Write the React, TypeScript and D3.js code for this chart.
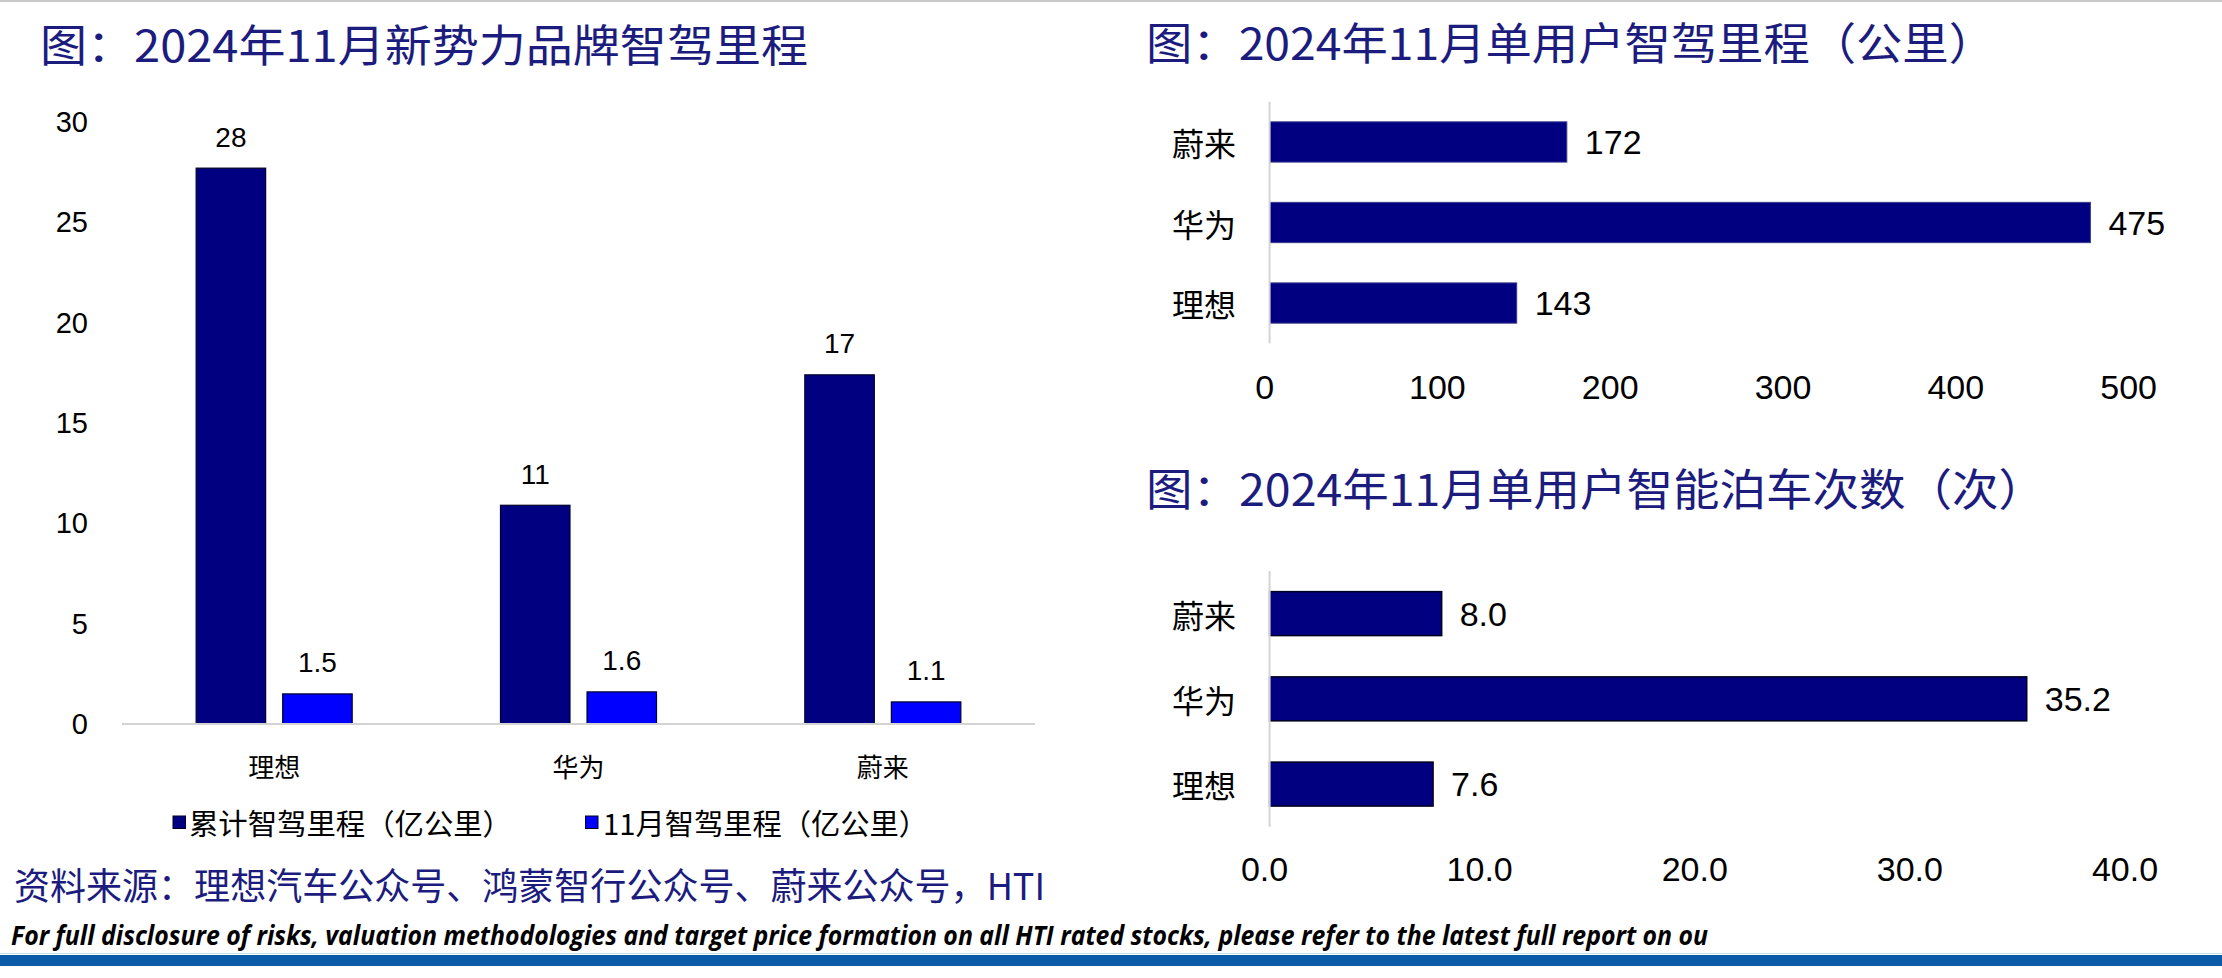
import React from "react";
import * as d3 from "d3";

// ---------- data ----------
const brands = ["理想", "华为", "蔚来"];
const seriesNames = ["累计智驾里程（亿公里）", "11月智驾里程（亿公里）"];
const cumulativeMileage = [27.7, 10.9, 17.4];
const novemberMileage = [1.5, 1.6, 1.1];
const leftTicks = [0, 5, 10, 15, 20, 25, 30];

const rightBrands = ["蔚来", "华为", "理想"];
const perUserMileage = [172, 475, 143];
const mileageTicks = [0, 100, 200, 300, 400, 500];

const parkingCounts = [8.0, 35.2, 7.6];
const parkingTicks = [0, 10, 20, 30, 40];

const titleLeft = "图：2024年11月新势力品牌智驾里程";
const titleRight1 = "图：2024年11月单用户智驾里程（公里）";
const titleRight2 = "图：2024年11月单用户智能泊车次数（次）";
const sourceText = "资料来源：理想汽车公众号、鸿蒙智行公众号、蔚来公众号，HTI";
const disclaimer =
  "For full disclosure of risks, valuation methodologies and target price formation on all HTI rated stocks, please refer to the latest full report on ou";

// ---------- styles ----------
const NAVY = "#000080";
const BLUE = "#0000FF";
const TITLE = "#1C1C7E";
const CJK = "'Noto Sans CJK SC', sans-serif";
const NUM = "'Liberation Sans', Arial, sans-serif";
const AXIS = "#D3D3D3";

export default function App() {
  // Left grouped bar chart
  const x0 = d3.scaleBand<string>().domain(brands).range([122, 1035]).paddingInner(0.4873).paddingOuter(0.4873 / 2);
  const x1 = d3.scaleBand<number>().domain([0, 1]).range([0, x0.bandwidth()]).paddingInner(0.197);
  const yL = d3.scaleLinear().domain([0, 30]).range([724, 122]);
  const seriesVals = [cumulativeMileage, novemberMileage];
  const seriesColors = [NAVY, BLUE];
  const seriesFmt = [d3.format(".0f"), d3.format(".1f")];

  // Right chart 1
  const xR1 = d3.scaleLinear().domain([0, 500]).range([1269.6, 2133.6]);
  const yR1 = d3.scaleBand<string>().domain(rightBrands).range([101.7, 343.3]).paddingInner(0.5).paddingOuter(0.25);

  // Right chart 2
  const xR2 = d3.scaleLinear().domain([0, 40]).range([1269.6, 2130]);
  const yR2 = d3.scaleBand<string>().domain(rightBrands).range([571, 826.7]).paddingInner(0.484).paddingOuter(0.242);

  return (
    <svg
      width={2222}
      height={978}
      viewBox="0 0 2222 978"
      style={{ position: "absolute", left: 0, top: 0, background: "#fff" }}
    >
      <rect x={0} y={0} width={2222} height={978} fill="#fff" />
      <line x1={0} x2={2222} y1={1} y2={1} stroke="#C8C8C8" strokeWidth={2} />

      {/* ---------- Left chart ---------- */}
      <text x={40} y={43} fontFamily={CJK} fontSize={44} fill={TITLE} dominantBaseline="central" textLength={768} lengthAdjust="spacingAndGlyphs">
        {titleLeft}
      </text>
      {leftTicks.map((t) => (
        <text key={"lt" + t} x={88} y={yL(t)} fontFamily={NUM} fontSize={29} textAnchor="end" dominantBaseline="central" fill="#000">
          {t}
        </text>
      ))}
      {brands.map((b, i) => (
        <g key={"lg" + b}>
          {seriesVals.map((vals, s) => {
            const bx = (x0(b) as number) + (x1(s) as number);
            const bw = x1.bandwidth();
            return (
              <g key={"lb" + s}>
                <rect x={bx} y={yL(vals[i])} width={bw} height={yL(0) - yL(vals[i])} fill={seriesColors[s]} stroke="#00002A" strokeWidth={1.2} />
                <text x={bx + bw / 2} y={yL(vals[i]) - 31} fontFamily={NUM} fontSize={28} textAnchor="middle" dominantBaseline="central" fill="#000">
                  {seriesFmt[s](vals[i])}
                </text>
              </g>
            );
          })}
          <text x={(x0(b) as number) + x0.bandwidth() / 2} y={765} fontFamily={CJK} fontSize={26} textAnchor="middle" dominantBaseline="central" fill="#000">
            {b}
          </text>
        </g>
      ))}
      <line x1={122} x2={1035} y1={yL(0)} y2={yL(0)} stroke={AXIS} strokeWidth={2} />

      {/* legend */}
      <rect x={173} y={816} width={12.5} height={12.5} fill={NAVY} stroke="#00002A" strokeWidth={1} />
      <text x={189} y={822} fontFamily={CJK} fontSize={29} dominantBaseline="central" fill="#000" textLength={323} lengthAdjust="spacingAndGlyphs">
        {seriesNames[0]}
      </text>
      <rect x={585.5} y={816} width={12.5} height={12.5} fill={BLUE} stroke="#00002A" strokeWidth={1} />
      <text x={603} y={822} fontFamily={CJK} fontSize={29} dominantBaseline="central" fill="#000" textLength={325} lengthAdjust="spacingAndGlyphs">
        {seriesNames[1]}
      </text>

      {/* source */}
      <text x={14} y={884} fontFamily={CJK} fontSize={37} dominantBaseline="central" fill={TITLE} textLength={1031} lengthAdjust="spacingAndGlyphs">
        {sourceText}
      </text>

      {/* ---------- Right chart 1 ---------- */}
      <text x={1146} y={41} fontFamily={CJK} fontSize={44} fill={TITLE} dominantBaseline="central" textLength={849} lengthAdjust="spacingAndGlyphs">
        {titleRight1}
      </text>
      {rightBrands.map((b, i) => {
        const by = yR1(b) as number;
        const bh = yR1.bandwidth();
        return (
          <g key={"r1" + b}>
            <rect x={xR1(0)} y={by} width={xR1(perUserMileage[i]) - xR1(0)} height={bh} fill={NAVY} stroke="#3A3A8A" strokeWidth={1} />
            <text x={xR1(perUserMileage[i]) + 18} y={by + bh / 2} fontFamily={NUM} fontSize={34} dominantBaseline="central" fill="#000">
              {d3.format("d")(perUserMileage[i])}
            </text>
            <text x={1236} y={by + bh / 2} fontFamily={CJK} fontSize={32} textAnchor="end" dominantBaseline="central" fill="#000">
              {b}
            </text>
          </g>
        );
      })}
      <line x1={xR1(0)} x2={xR1(0)} y1={101.7} y2={343.3} stroke={AXIS} strokeWidth={2} />
      {mileageTicks.map((t) => (
        <text key={"m" + t} x={xR1(t) - 5} y={387} fontFamily={NUM} fontSize={34} textAnchor="middle" dominantBaseline="central" fill="#000">
          {t}
        </text>
      ))}

      {/* ---------- Right chart 2 ---------- */}
      <text x={1146} y={487} fontFamily={CJK} fontSize={44} fill={TITLE} dominantBaseline="central" textLength={899} lengthAdjust="spacingAndGlyphs">
        {titleRight2}
      </text>
      {rightBrands.map((b, i) => {
        const by = yR2(b) as number;
        const bh = yR2.bandwidth();
        return (
          <g key={"r2" + b}>
            <rect x={xR2(0)} y={by} width={xR2(parkingCounts[i]) - xR2(0)} height={bh} fill={NAVY} stroke="#000020" strokeWidth={1.5} />
            <text x={xR2(parkingCounts[i]) + 18} y={by + bh / 2} fontFamily={NUM} fontSize={34} dominantBaseline="central" fill="#000">
              {d3.format(".1f")(parkingCounts[i])}
            </text>
            <text x={1236} y={by + bh / 2} fontFamily={CJK} fontSize={32} textAnchor="end" dominantBaseline="central" fill="#000">
              {b}
            </text>
          </g>
        );
      })}
      <line x1={xR2(0)} x2={xR2(0)} y1={571} y2={826.7} stroke={AXIS} strokeWidth={2} />
      {parkingTicks.map((t) => (
        <text key={"p" + t} x={xR2(t) - 5} y={869} fontFamily={NUM} fontSize={34} textAnchor="middle" dominantBaseline="central" fill="#000">
          {d3.format(".1f")(t)}
        </text>
      ))}

      {/* ---------- footer ---------- */}
      <text x={11} y={935} fontFamily="'Open Sans', 'Liberation Sans', sans-serif" fontWeight="bold" fontStyle="italic" fontSize={26} dominantBaseline="central" fill="#000" textLength={1697} lengthAdjust="spacingAndGlyphs">
        {disclaimer}
      </text>
      <line x1={0} x2={2222} y1={953.5} y2={953.5} stroke="#BFE3E8" strokeWidth={1} />
      <rect x={0} y={955} width={2222} height={11} fill="#0A5AA8" />
    </svg>
  );
}
